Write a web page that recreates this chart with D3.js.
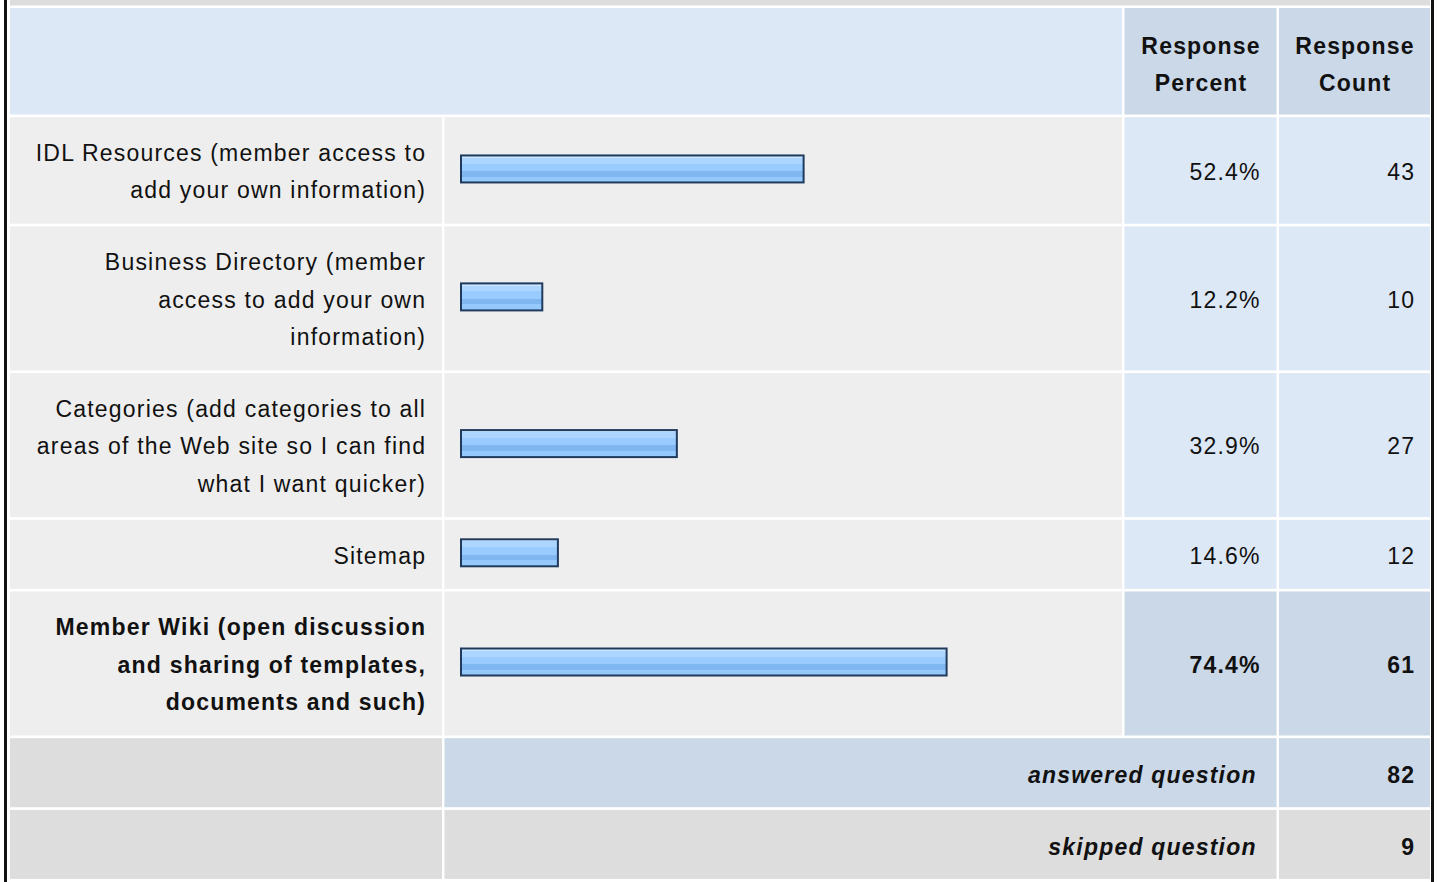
<!DOCTYPE html>
<html>
<head>
<meta charset="utf-8">
<script src="https://cdn.jsdelivr.net/npm/d3@7"></script>
<style>
  html, body { margin: 0; padding: 0; background: #ffffff; overflow: hidden; }
  svg { display: block; }
  text { font-family: "Liberation Sans", Arial, Helvetica, sans-serif; fill: #111; }
</style>
</head>
<body>
<svg id="chart" width="1440" height="882"></svg>
<script>
// ---- data ----
const categories = [
  ["IDL Resources (member access to", "add your own information)"],
  ["Business Directory (member", "access to add your own", "information)"],
  ["Categories (add categories to all", "areas of the Web site so I can find", "what I want quicker)"],
  ["Sitemap"],
  ["Member Wiki (open discussion", "and sharing of templates,", "documents and such)"]
];
const percents = [52.4, 12.2, 32.9, 14.6, 74.4];
const counts = [43, 10, 27, 12, 61];
const headerLabels = [["Response", "Percent"], ["Response", "Count"]];
const summaryLabels = ["answered question", "skipped question"];
const summaryValues = [82, 9];

// ---- layout ----
const svg = d3.select("#chart");
const FS = 23, LS = 1.2, LH = 37.5;
const colX = [10, 444.5, 1124.5, 1279];
const colR = [442, 1122, 1276.5, 1430];
const GAP = 2.7;
const rowH = n => 31.5 + LH * n;

const C_LIGHT = "#eeeeee", C_GRAY = "#dddddd", C_BLUE = "#dce8f6", C_BLUE2 = "#cbd8e7";

const x = d3.scaleLinear().domain([0, 100]).range([0, 650]);
const maxV = d3.max(percents);

// gradient
const defs = svg.append("defs");
const g = defs.append("linearGradient").attr("id", "barGrad")
  .attr("x1", 0).attr("y1", 0).attr("x2", 0).attr("y2", 1);
[[0, "#cde6ff"], [0.08, "#cde6ff"], [0.08, "#acd5ff"], [0.3, "#acd5ff"], [0.3, "#9acbff"],
 [0.57, "#9acbff"], [0.57, "#80b7f0"], [0.78, "#80b7f0"], [0.78, "#95c8fb"], [1, "#95c8fb"]]
  .forEach(([o, c]) => g.append("stop").attr("offset", o).attr("stop-color", c));

// outer frame
svg.append("rect").attr("x", 4).attr("y", 0).attr("width", 3).attr("height", 882).attr("fill", "#111");
svg.append("rect").attr("x", 1431).attr("y", 0).attr("width", 3).attr("height", 882).attr("fill", "#111");
svg.append("rect").attr("x", 10).attr("y", 0).attr("width", 1420).attr("height", 5.5).attr("fill", C_GRAY);

function cell(x0, x1, y0, h, fill) {
  svg.append("rect").attr("x", x0).attr("y", y0).attr("width", x1 - x0).attr("height", h).attr("fill", fill);
}
function lines(arr, xp, yc, weight, style, anchor) {
  const n = arr.length;
  const a = anchor || "end";
  arr.forEach((t, i) => {
    svg.append("text")
      .attr("x", a === "end" ? xp + LS : xp + LS / 2)
      .attr("y", yc + 1 + (i - (n - 1) / 2) * LH)
      .attr("dy", "0.36em")
      .attr("text-anchor", a)
      .style("font-size", FS + "px")
      .style("letter-spacing", LS + "px")
      .style("font-weight", weight || "normal")
      .style("font-style", style || "normal")
      .text(t);
  });
}

let y = 8;
// header
{
  const h = rowH(2);
  cell(colX[0], colR[1], y, h, C_BLUE);
  cell(colX[2], colR[2], y, h, C_BLUE2);
  cell(colX[3], colR[3], y, h, C_BLUE2);
  const yc = y + h / 2 + 2;
  lines(headerLabels[0], (colX[2] + colR[2]) / 2, yc, "bold", "normal", "middle");
  lines(headerLabels[1], (colX[3] + colR[3]) / 2, yc, "bold", "normal", "middle");
  y += h + GAP;
}

// data rows
categories.forEach((lab, i) => {
  const h = rowH(lab.length);
  const isMax = percents[i] === maxV;
  const w = isMax ? "bold" : "normal";
  cell(colX[0], colR[0], y, h, C_LIGHT);
  cell(colX[1], colR[1], y, h, C_LIGHT);
  cell(colX[2], colR[2], y, h, isMax ? C_BLUE2 : C_BLUE);
  cell(colX[3], colR[3], y, h, isMax ? C_BLUE2 : C_BLUE);
  const yc = y + h / 2;
  lines(lab, colR[0] - 17, yc, w);
  const bh = 27;
  svg.append("rect")
    .attr("x", 461).attr("y", yc - 1.5 - bh / 2)
    .attr("width", x(percents[i]) + 2).attr("height", bh)
    .attr("fill", "url(#barGrad)")
    .attr("stroke", "#1f3a5c").attr("stroke-width", 2);
  lines([percents[i].toFixed(1) + "%"], colR[2] - 17, yc, w);
  lines([String(counts[i])], colR[3] - 16, yc, w);
  y += h + GAP;
});

// summary rows
summaryLabels.forEach((lab, i) => {
  const h = rowH(1);
  const fill = i === 0 ? C_BLUE2 : C_GRAY;
  cell(colX[0], colR[0], y, h, C_GRAY);
  cell(colX[1], colR[2], y, h, fill);
  cell(colX[3], colR[3], y, h, fill);
  const yc = y + h / 2 + 1.5;
  lines([lab], colR[2] - 21, yc, "bold", "italic");
  lines([String(summaryValues[i])], colR[3] - 16, yc, "bold");
  y += h + GAP;
});
</script>
</body>
</html>
